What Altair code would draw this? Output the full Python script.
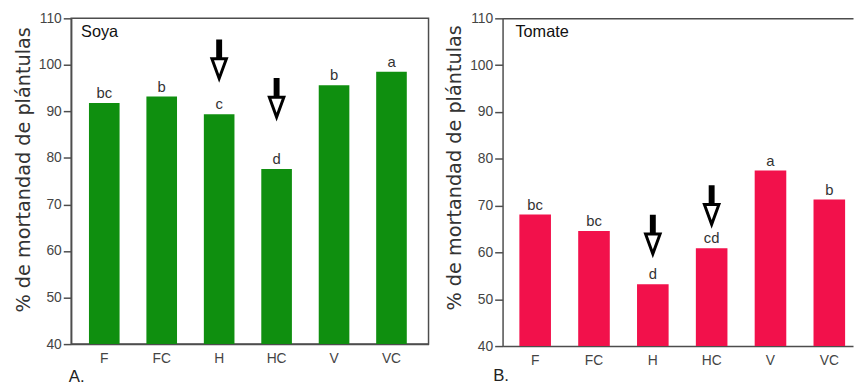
import altair as alt
import pandas as pd

categories = ["F", "FC", "H", "HC", "V", "VC"]
soya_values = [91.8, 93.2, 89.4, 77.6, 95.6, 98.5]
soya_letters = ["bc", "b", "c", "d", "b", "a"]
tomate_values = [68.1, 64.6, 53.2, 60.9, 77.5, 71.3]
tomate_letters = ["bc", "bc", "d", "cd", "a", "b"]
soya_arrow_cats = ["H", "HC"]
soya_arrow_pos = [100.8, 92.5]
tomate_arrow_cats = ["H", "HC"]
tomate_arrow_pos = [63.4, 69.7]
y_ticks = [40, 50, 60, 70, 80, 90, 100, 110]

AX = "#4d4d4d"
LAB_FONT = "Liberation Sans"
ARROW = ("M-0.136,-1L0.136,-1L0.136,-0.182L0.432,-0.182L0,1L-0.432,-0.182L-0.136,-0.182Z "
         "M-0.236,-0.045L0,0.602L0.236,-0.045Z")


def panel(values, letters, arrow_cats, arrow_pos, color, name, tag, width, height,
          p_inner, p_outer, align, title_y, tag_x, tag_y, framed, name_dx):
    df = pd.DataFrame({"cat": categories, "val": values, "lab": letters})
    adf = pd.DataFrame({"cat": arrow_cats, "pos": arrow_pos})
    xscale = alt.Scale(domain=categories, paddingInner=p_inner, paddingOuter=p_outer, align=align)
    yscale = alt.Scale(domain=[40, 110], nice=False, zero=False)
    xaxis = alt.Axis(title=tag, titleX=tag_x, titleY=tag_y, titleAlign="left",
                     titleBaseline="alphabetic", titleFont=LAB_FONT, titleFontSize=17,
                     titleFontWeight="normal", titleColor="#222",
                     labelFont=LAB_FONT, labelFontSize=14, labelColor="#444",
                     labelPadding=8, labelAngle=0, ticks=False,
                     domainColor=AX, domainWidth=1.5)
    yaxis = alt.Axis(values=y_ticks, title="% de mortandad de plántulas",
                     titleFont="DejaVu Sans", titleFontSize=19.5, titleFontWeight="normal",
                     titleColor="#333", titleY=title_y, titlePadding=5,
                     labelFont=LAB_FONT, labelFontSize=14, labelColor="#444", labelPadding=2,
                     tickSize=8, tickColor=AX, tickWidth=1.5,
                     domainColor=AX, domainWidth=1.5, grid=False)
    bars = alt.Chart(df).mark_bar(color=color).encode(
        x=alt.X("cat:N", sort=categories, scale=xscale, axis=xaxis),
        y=alt.Y("val:Q", scale=yscale, axis=yaxis),
        y2=alt.datum(40),
    )
    texts = alt.Chart(df).mark_text(dy=-5, baseline="alphabetic", font=LAB_FONT,
                                    fontSize=15, color="#333").encode(
        x=alt.X("cat:N", sort=categories, axis=None),
        y=alt.Y("val:Q", axis=None),
        text="lab:N",
    )
    arrows = alt.Chart(adf).mark_point(shape=ARROW, size=1936, filled=True,
                                       color="black", opacity=1).encode(
        x=alt.X("cat:N", sort=categories, axis=None),
        y=alt.Y("pos:Q", axis=None),
    )
    layers = [bars, texts, arrows]
    if not framed:
        top = alt.Chart(df).mark_bar(opacity=0).encode(
            x=alt.X("cat:N", sort=categories,
                    axis=alt.Axis(orient="top", labels=False, ticks=False, title=None,
                                  domainColor=AX, domainWidth=1.5)),
        )
        layers.append(top)
    title = alt.TitleParams(text=name, orient="top", anchor="start", frame="group",
                            offset=-29, baseline="top", dx=name_dx, font=LAB_FONT,
                            fontSize=16.5, fontWeight="normal", color="#111")
    if framed:
        view = alt.ViewBackground(stroke=AX, strokeWidth=1.5)
    else:
        view = alt.ViewBackground(stroke="transparent")
    ch = alt.layer(*layers).properties(width=width, height=height, title=title, view=view)
    ch = ch.resolve_axis(x="independent", y="independent")
    return ch


left = panel(soya_values, soya_letters, soya_arrow_cats, soya_arrow_pos, "#0f8f0f",
             "Soya", "A.", 362, 330, 0.467, 0.344, 0.45, 153, -3, 38, True, 10)
right = panel(tomate_values, tomate_letters, tomate_arrow_cats, tomate_arrow_pos, "#f2114b",
              "Tomate", "B.", 355, 332, 0.463, 0.21, 0.68, 151, -10, 35, False, 13)

chart = alt.hconcat(left, right, spacing=15).properties(
    padding={"left": 4, "top": 0, "right": 0, "bottom": 0}
)

chart.save("out.html", embed_options={"renderer": "svg", "actions": False})
